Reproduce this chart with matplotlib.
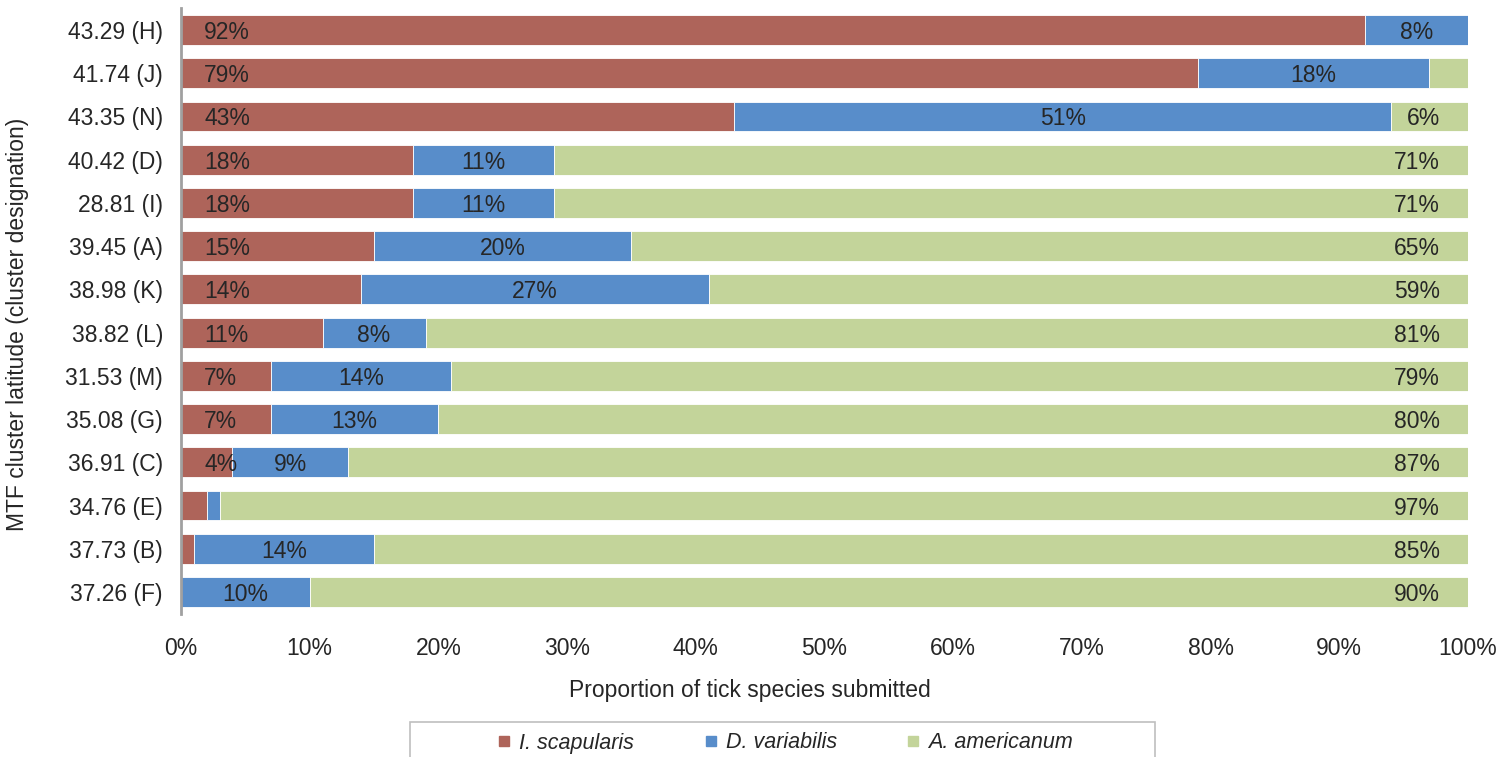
import matplotlib
matplotlib.use("Agg")
import matplotlib.pyplot as plt
from matplotlib.lines import Line2D
from matplotlib.patches import Rectangle
import numpy as np

clusters = ["43.29 (H)", "41.74 (J)", "43.35 (N)", "40.42 (D)", "28.81 (I)",
            "39.45 (A)", "38.98 (K)", "38.82 (L)", "31.53 (M)", "35.08 (G)",
            "36.91 (C)", "34.76 (E)", "37.73 (B)", "37.26 (F)"]
scapularis = [92, 79, 43, 18, 18, 15, 14, 11, 7, 7, 4, 2, 1, 0]
variabilis = [8, 18, 51, 11, 11, 20, 27, 8, 14, 13, 9, 1, 14, 10]
americanum = [0, 3, 6, 71, 71, 65, 59, 81, 79, 80, 87, 97, 85, 90]

species = ["I. scapularis", "D. variabilis", "A. americanum"]
colors = ["#AE645A", "#588DCA", "#C3D49A"]
txt = "#262626"
fs = 16.5

plt.rcParams["font.family"] = ["Liberation Sans", "DejaVu Sans"]
plt.rcParams["font.size"] = fs

W, H = 1511, 757
fig = plt.figure(figsize=(W / 100, H / 100), dpi=100)
ax = fig.add_axes([181 / W, 1 - 613.6 / H, (1468 - 181) / W, (613.6 - 8.4) / H])

y = np.arange(len(clusters))
s = np.array(scapularis) / 100
v = np.array(variabilis) / 100
a = np.array(americanum) / 100
h = 0.69
ax.barh(y, s, height=h, color=colors[0], edgecolor="white", linewidth=0.6)
ax.barh(y, v, left=s, height=h, color=colors[1], edgecolor="white", linewidth=0.6)
ax.barh(y, a, left=s + v, height=h, color=colors[2], edgecolor="white", linewidth=0.6)

# data labels: red at base, blue centred, green at end; hide tiny ones
for i in range(len(clusters)):
    if scapularis[i] > 3:
        ax.text(0.018, i, f"{scapularis[i]}%", ha="left", va="center_baseline", color=txt)
    if variabilis[i] > 3:
        ax.text(s[i] + v[i] / 2, i, f"{variabilis[i]}%", ha="center", va="center_baseline",
                color=txt)
    if americanum[i] > 3:
        ax.text(0.978, i, f"{americanum[i]}%", ha="right", va="center_baseline", color=txt)

ax.set_xlim(0, 1)
ax.set_ylim(13.5, -0.5)
ax.set_yticks(y)
ax.set_yticklabels(clusters, color=txt)
ax.set_xticks(np.arange(0, 1.01, 0.1))
ax.set_xticklabels([f"{int(t * 100)}%" for t in np.arange(0, 1.01, 0.1)], color=txt)
ax.tick_params(axis="both", length=0)
ax.tick_params(axis="y", pad=13)
ax.tick_params(axis="x", pad=17)
for sp in ["top", "right", "bottom"]:
    ax.spines[sp].set_visible(False)
ax.spines["left"].set_color("#A0A0A0")
ax.spines["left"].set_linewidth(2)

fig.text(750 / W, 1 - 690 / H, "Proportion of tick species submitted",
         ha="center", va="center", color=txt)
fig.text(18 / W, 1 - 324 / H, "MTF cluster latitude (cluster designation)",
         ha="center", va="center", rotation=90, color=txt)

# legend box (runs off the bottom edge)
fig.patches.append(Rectangle((410 / W, -0.02), (1155 - 410) / W, 0.02 + (757 - 722) / H,
                             transform=fig.transFigure, facecolor="white",
                             edgecolor="#BFBFBF", linewidth=1.2))
handles = [Line2D([], [], marker="s", linestyle="", markersize=7.5, color=c) for c in colors]
leg = fig.legend(handles, species, loc="center", bbox_to_anchor=(786 / W, 1 - 743 / H),
                 ncol=3, frameon=False, handlelength=0.5, handletextpad=0.45,
                 columnspacing=3.3, fontsize=15.5)
for t in leg.get_texts():
    t.set_fontstyle("italic")
    t.set_color(txt)

fig.savefig("out.png", dpi=100)
